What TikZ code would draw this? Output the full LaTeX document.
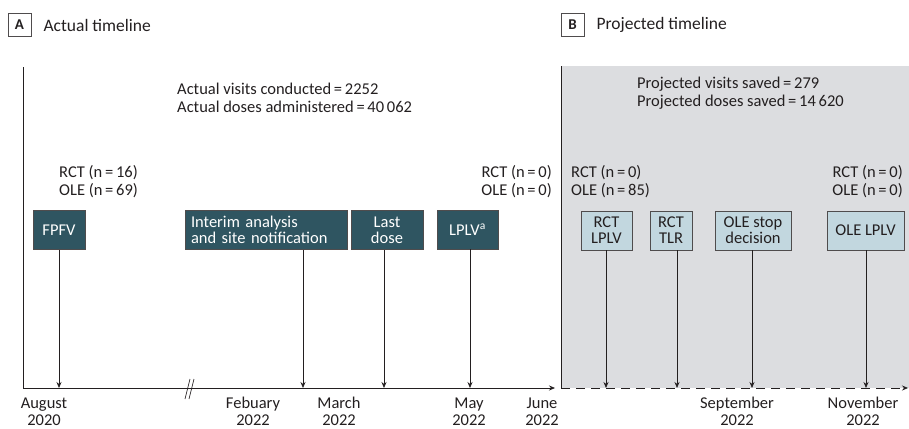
\documentclass[tikz,border=0pt]{standalone}
\usepackage{fontspec}
\setmainfont{Carlito}
\usetikzlibrary{arrows.meta}
\definecolor{darkbox}{HTML}{2F5561}
\definecolor{lightbox}{HTML}{C2D7DF}
\definecolor{panelgray}{HTML}{DCDDE0}
\definecolor{ink}{HTML}{231F20}
\tikzset{
  event/.style = {draw = ink!80, line width = 0.8pt, minimum height = 39pt, inner sep = 2pt, align = center, font = \fontsize{16.5}{16}\selectfont},
  actual/.style = {event, fill = darkbox, text = white},
  projected/.style = {event, fill = lightbox, text = ink},
  info/.style = {align = left, inner sep = 0pt, font = \fontsize{16.5}{18}\selectfont},
  date/.style = {align = center, inner sep = 0pt, font = \fontsize{16.5}{17}\selectfont},
  tag/.style = {draw = ink!80, line width = 0.8pt, minimum width = 23pt, minimum height = 23pt, inner sep = 0pt, font = \fontsize{15}{15}\selectfont\bfseries},
  tick/.style = {-{Stealth[length = 6pt, width = 5pt]}, line width = 0.7pt, ink}
}
\begin{document}
\begin{tikzpicture}[x = 1pt, y = -1pt, text = ink]
    \useasboundingbox (0, 0) rectangle (909, 428);
    % panel B background
    \fill[panelgray] (561, 66) rectangle (909, 388);
    \draw[ink, line width = 0.8pt] (561, 66) -- (561, 388);
    \draw[ink, line width = 0.8pt] (23, 67) -- (23, 388);
    % axis
    \coordinate (start) at (23, 388);
    \coordinate (june) at (555, 388);
    \coordinate (proj) at (561, 388);
    \coordinate (end) at (908, 388);
    \draw[tick] (start) -- (june);
    \draw[tick, dashed, dash pattern = on 9pt off 6pt] (proj) -- (end);
    \draw[ink, line width = 0.7pt] (185, 399) -- (190, 379) (189, 399) -- (194, 379);
    % titles
    \node[tag] (tagA) at (19.5, 25) {A};
    \node[anchor = west, font = \fontsize{17.5}{17.5}\selectfont] (titleA) at (40, 25) {Actual timeline};
    \node[tag] (tagB) at (572.5, 25) {B};
    \node[anchor = west, font = \fontsize{17.5}{17.5}\selectfont] (titleB) at (593, 25) {Projected timeline};
    % totals
    \node[info, anchor = west] (totA) at (177, 97.5) {Actual visits conducted\,=\,2252\\Actual doses administered\,=\,40\,062};
    \node[info, anchor = west] (totB) at (637, 93.5) {Projected visits saved\,=\,279\\Projected doses saved\,=\,14\,620};
    % participant counts
    \node[info, anchor = west] (n1) at (59, 182) {RCT (n\,=\,16)\\OLE (n\,=\,69)};
    \node[info, anchor = east, align = right] (n2) at (552, 182) {RCT (n\,=\,0)\\OLE (n\,=\,0)};
    \node[info, anchor = west] (n3) at (571, 182) {RCT (n\,=\,0)\\OLE (n\,=\,85)};
    \node[info, anchor = east, align = right] (n4) at (903, 182) {RCT (n\,=\,0)\\OLE (n\,=\,0)};
    % events
    \node[actual, minimum width = 52pt] (fpfv) at (59, 230) {FPFV};
    \node[actual, minimum width = 162pt, text width = 150pt, align = left] (interim) at (266, 230) {Interim analysis\\and site notification};
    \node[actual, minimum width = 72pt] (last) at (387, 230) {Last\\dose};
    \node[actual, minimum width = 61pt] (lplv) at (467.5, 229.5) {LPLV\textsuperscript{a}};
    \node[projected, minimum width = 51pt] (rctlplv) at (606.5, 230.5) {RCT\\LPLV};
    \node[projected, minimum width = 42pt] (rcttlr) at (671, 230.5) {RCT\\TLR};
    \node[projected, minimum width = 76pt] (olestop) at (753, 230.5) {OLE stop\\decision};
    \node[projected, minimum width = 77pt] (olelplv) at (865.5, 230.5) {OLE LPLV};
    \foreach \b/\x in {fpfv/59, interim/303, last/384, lplv/470, rctlplv/606, rcttlr/677, olestop/752, olelplv/866}
       {\coordinate (t-\b) at (\x, 388);
        \draw[tick] (\b.south -| t-\b) -- (t-\b);}
    % dates
    \node[date] (aug) at (44, 411.5) {August\\2020};
    \node[date] (feb) at (253, 411.5) {Febuary\\2022};
    \node[date] (mar) at (339, 411.5) {March\\2022};
    \node[date] (may) at (469, 411.5) {May\\2022};
    \node[date] (jun) at (542, 411.5) {June\\2022};
    \node[date] (sep) at (737, 411.5) {September\\2022};
    \node[date] (nov) at (863, 411.5) {November\\2022};
\end{tikzpicture}
\end{document}
